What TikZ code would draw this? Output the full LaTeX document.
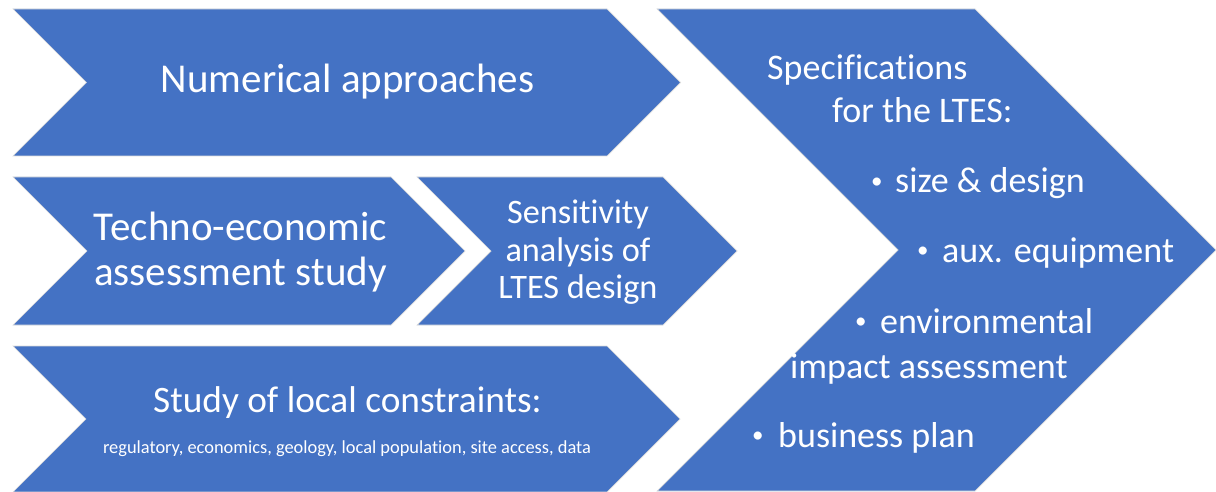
\documentclass[tikz,border=0pt]{standalone}
\usepackage{fontspec}
\setmainfont{Carlito}[Ligatures=NoCommon]
\definecolor{chev}{HTML}{4472C4}
\newcommand{\mybul}[1]{\makebox[#1][l]{\raisebox{4.5pt}{\fontsize{23}{23}\selectfont•}}}
\begin{document}
\begin{tikzpicture}[x=1pt,y=-1pt,
  chevron/.style={fill=chev, draw=black!14, line width=0.7pt, line join=miter},
  txt/.style={text=white, inner sep=0pt, anchor=base},
  txtl/.style={text=white, inner sep=0pt, anchor=base west},
  fbig/.style={font=\fontsize{41}{45}\selectfont},
  fmid/.style={font=\fontsize{37.3}{42}\selectfont},
  fsen/.style={font=\fontsize{34.3}{38}\selectfont},
  fspec/.style={font=\fontsize{36}{40}\selectfont},
  fsmall/.style={font=\fontsize{18.4}{21}\selectfont}]
\useasboundingbox (0,0) rectangle (1216,492);
% chevrons
\path[chevron] (13,9) -- (607,9) -- (680.5,82.5) -- (607,156) -- (13,156) -- (86.5,82.5) -- cycle;
\path[chevron] (13,177) -- (391,177) -- (465,251) -- (391,325) -- (13,325) -- (87,251) -- cycle;
\path[chevron] (417,177) -- (663,177) -- (737,251) -- (663,325) -- (417,325) -- (491,251) -- cycle;
\path[chevron] (13,346) -- (607,346) -- (680,419) -- (607,492) -- (13,492) -- (86,419) -- cycle;
\path[chevron] (657,9) -- (975,9) -- (1216,250) -- (975,491) -- (657,491) -- (898,250) -- cycle;
% texts
\node[txt,fbig] (num) at (347.5,93) {Numerical approaches};
\node[txt,fbig] (te1) at (240.5,240) {Techno-economic};
\node[txt,fbig] (te2) at (240.5,285) {assessment study};
\node[txt,fsen] (se1) at (578,223) {Sensitivity};
\node[txt,fsen] (se2) at (578,261) {analysis of};
\node[txt,fsen] (se3) at (578,298) {LTES design};
\node[txt,fmid] (loc) at (347.5,412) {Study of local constraints:};
\node[txt,fsmall] (locs) at (347,453) {regulatory, economics, geology, local population, site access, data};
\node[txtl,fspec] (sp1) at (767,80) {Specifications};
\node[txtl,fspec] (sp2) at (832,123) {for the LTES:};
\node[txtl,fspec] (b1) at (871,193) {\mybul{24pt}size \& design};
\node[txtl,fspec] (b2) at (917,262) {\mybul{25pt}aux. equipment};
\node[txtl,fspec] (b3) at (855,333) {\mybul{25pt}environmental};
\node[txtl,fspec] (b3b) at (790,378) {impact assessment};
\node[txtl,fspec] (b4) at (752,447) {\mybul{26pt}business plan};
\end{tikzpicture}
\end{document}
